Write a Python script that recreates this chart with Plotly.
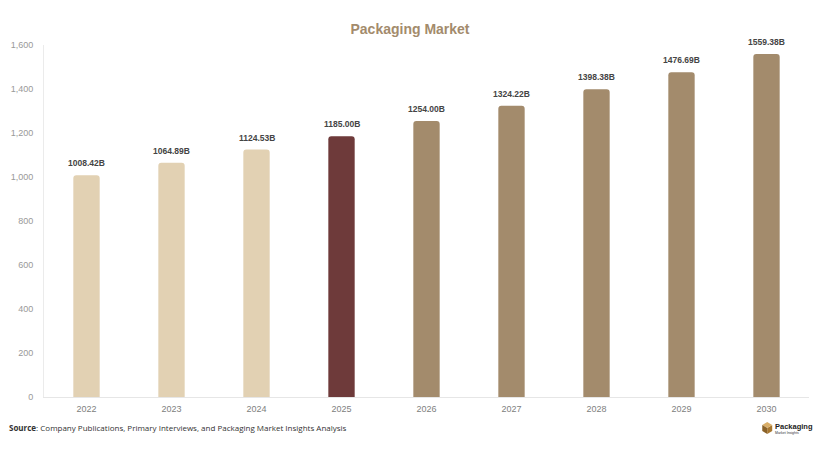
import plotly.graph_objects as go

years = ["2022", "2023", "2024", "2025", "2026", "2027", "2028", "2029", "2030"]
values = [1008.42, 1064.89, 1124.53, 1185.00, 1254.00, 1324.22, 1398.38, 1476.69, 1559.38]
labels = ["1008.42B", "1064.89B", "1124.53B", "1185.00B", "1254.00B", "1324.22B", "1398.38B", "1476.69B", "1559.38B"]
colors = ["#E2D1B3"] * 3 + ["#6E3A3A"] + ["#A38B6C"] * 5
ytick_vals = [0, 200, 400, 600, 800, 1000, 1200, 1400, 1600]
ytick_text = ["0", "200", "400", "600", "800", "1,000", "1,200", "1,400", "1,600"]

fig = go.Figure(go.Bar(
    x=years, y=values, marker=dict(color=colors, line=dict(width=0), cornerradius=3),
    hoverinfo="skip",
))

# value labels placed at each bar's category index and value
for i, (v, lab) in enumerate(zip(values, labels)):
    fig.add_annotation(x=i, y=v, text="<b>" + lab + "</b>", showarrow=False,
                       yanchor="middle", yshift=12,
                       font=dict(family="Arial", size=8.5, color="#444444"))

fig.update_layout(
    width=820, height=454,
    margin=dict(l=40, r=11, t=45, b=57),
    paper_bgcolor="white", plot_bgcolor="white",
    bargap=0.69,
    showlegend=False,
    title=dict(text="<b>Packaging Market</b>", x=0.5, xanchor="center", y=0.935, yanchor="middle",
               font=dict(family="Arial", size=14, color="#A38B6C")),
    xaxis=dict(type="category", showgrid=False, showline=True, linecolor="#E6E6E6", linewidth=1, ticks="",
               tickfont=dict(family="Arial", size=9, color="#808080"), ticklabelstandoff=3),
    yaxis=dict(range=[0, 1600], showgrid=False, showline=True, linecolor="#EBEBEB", linewidth=1,
               tickvals=ytick_vals, ticktext=ytick_text, ticks="", zeroline=False,
               tickfont=dict(family="Arial", size=9, color="#999999"), ticklabelstandoff=8),
    font=dict(family="Arial"),
)

fig.add_annotation(text="<b>Source</b>: Company Publications, Primary Interviews, and Packaging Market Insights Analysis",
                   xref="paper", yref="paper", x=-0.048, y=-0.088, xanchor="left", yanchor="middle",
                   showarrow=False, font=dict(family="Open Sans", size=8, color="#333333"))

# logo approximation (hexagonal box icon)
fig.add_shape(type="path", xref="paper", yref="paper",
              path="M 0.9454 -0.0880 L 0.9519 -0.0795 L 0.9519 -0.0966 L 0.9454 -0.1051 Z",
              fillcolor="#A8772E", line=dict(width=0))
fig.add_shape(type="path", xref="paper", yref="paper",
              path="M 0.9389 -0.0795 L 0.9454 -0.0710 L 0.9519 -0.0795 L 0.9454 -0.0880 Z",
              fillcolor="#D9AE68", line=dict(width=0))
fig.add_shape(type="path", xref="paper", yref="paper",
              path="M 0.9389 -0.0795 L 0.9454 -0.0880 L 0.9454 -0.1051 L 0.9389 -0.0966 Z",
              fillcolor="#8A6228", line=dict(width=0))
fig.add_annotation(text="<b>Packaging</b>", xref="paper", yref="paper", x=0.9545, y=-0.0852,
                   xanchor="left", yanchor="middle", showarrow=False, borderpad=0,
                   font=dict(family="Arial", size=7.5, color="#222222"))
fig.add_annotation(text="Market Insights", xref="paper", yref="paper", x=0.9545, y=-0.1030,
                   xanchor="left", yanchor="middle", showarrow=False, borderpad=0,
                   font=dict(family="Arial", size=3.5, color="#333333"))

fig.write_html("out.html")
